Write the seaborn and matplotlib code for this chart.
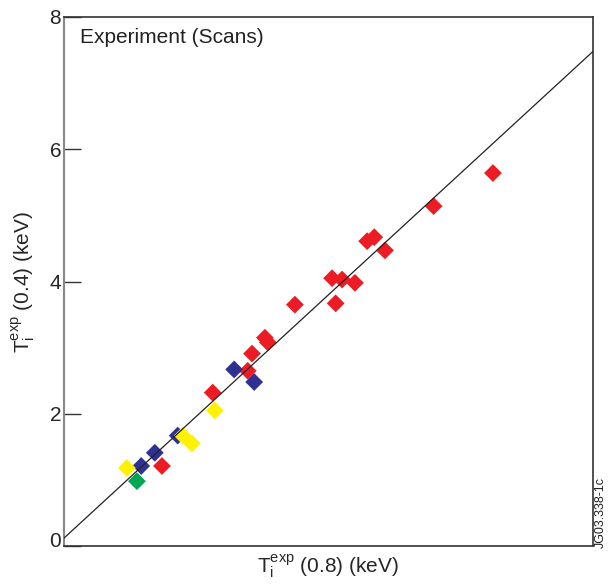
import matplotlib
matplotlib.use("Agg")
import matplotlib.pyplot as plt
import matplotlib.transforms as mtransforms
import seaborn as sns
import pandas as pd

# Ion temperature pairs, grouped by scan
red_x = [6.10, 5.27, 4.34, 4.44, 4.59, 3.85, 3.99, 4.17, 3.90, 3.33, 2.91, 2.95, 2.73, 2.67, 2.18, 1.47]
red_y = [5.64, 5.14, 4.61, 4.67, 4.47, 4.05, 4.03, 3.98, 3.67, 3.65, 3.15, 3.08, 2.91, 2.65, 2.32, 1.21]
blue_x = [2.48, 2.76, 1.69, 1.37, 1.18]
blue_y = [2.67, 2.48, 1.67, 1.41, 1.21]
yellow_x = [2.21, 1.76, 1.89, 0.98]
yellow_y = [2.05, 1.67, 1.55, 1.18]
green_x = [1.12]
green_y = [0.98]

groups = ["red", "blue", "yellow", "green"]
palette = {"red": "#ED1C24", "blue": "#2E3192", "yellow": "#FFF200", "green": "#00A651"}
yticks = [0, 2, 4, 6, 8]

frames = []
for name, xs, ys in [("red", red_x, red_y), ("blue", blue_x, blue_y),
                     ("yellow", yellow_x, yellow_y), ("green", green_x, green_y)]:
    frames.append(pd.DataFrame({"x": xs, "y": ys, "scan": name}))
df = pd.concat(frames, ignore_index=True)

sns.set_style("white")
plt.rcParams["font.family"] = ["Liberation Sans", "DejaVu Sans"]
plt.rcParams["mathtext.fontset"] = "custom"
plt.rcParams["mathtext.rm"] = "Liberation Sans"
plt.rcParams["mathtext.it"] = "Liberation Sans"

fig = plt.figure(figsize=(6.12, 5.88), dpi=100)
ax = fig.add_axes([0.1046, 0.0714, 0.8644, 0.8997])

# Line of equality
ax.plot([0.1, 7.5], [0.12, 7.48], color="#222222", lw=0.9, zorder=3)

sns.scatterplot(data=df, x="x", y="y", hue="scan", hue_order=groups, palette=palette,
                marker="D", s=82, edgecolor="none", legend=False, ax=ax, zorder=2)

ax.set_xlim(0.1, 7.5)
ax.set_ylim(0, 8)
ax.set_xticks([])
ax.set_yticks(yticks)
ax.set_yticklabels([str(t) for t in yticks], fontsize=15)
ax.tick_params(axis="y", direction="in", length=12, width=1, color="#333333", pad=2, left=True)

# lift the zero label slightly off the bottom spine
zero_label = ax.get_yticklabels()[0]
zero_label.set_transform(zero_label.get_transform() +
                         mtransforms.ScaledTranslation(0, 5 / 72, fig.dpi_scale_trans))

for side in ["top", "right", "bottom"]:
    ax.spines[side].set_color("#333333")
    ax.spines[side].set_linewidth(1.2)
ax.spines["left"].set_color("#888888")
ax.spines["left"].set_linewidth(1.5)

ax.set_xlabel(r"T$_\mathregular{i}^\mathregular{exp}$ (0.8) (keV)", fontsize=15, labelpad=5)
ax.set_ylabel(r"T$_\mathregular{i}^\mathregular{exp}$ (0.4) (keV)", fontsize=15, labelpad=8)

ax.text(0.03, 0.98, "Experiment (Scans)", transform=ax.transAxes, fontsize=15,
        ha="left", va="top", color="#222222")

fig.text(0.982, 0.068, "JG03.338-1c", rotation=90, fontsize=9, ha="center", va="bottom",
         color="#222222")

fig.savefig("out.png", dpi=100)
